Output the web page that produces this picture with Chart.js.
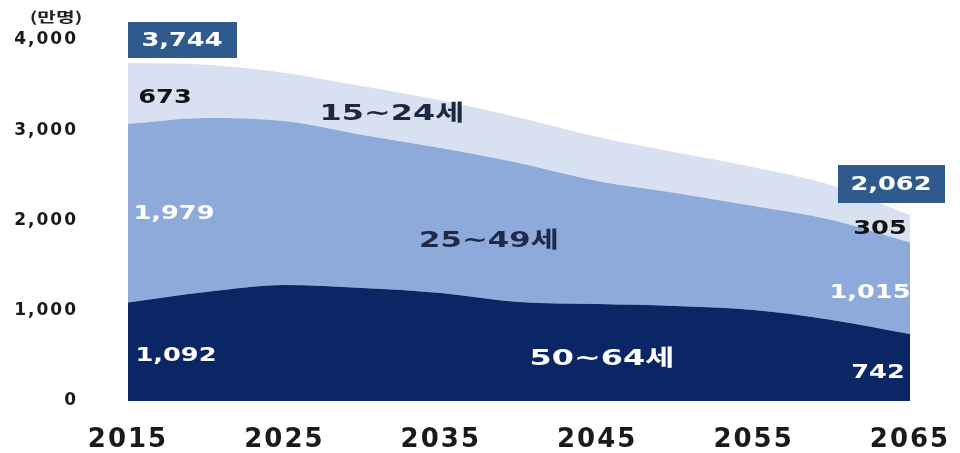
<!DOCTYPE html>
<html>
<head>
<meta charset="utf-8">
<script src="https://cdn.jsdelivr.net/npm/chart.js@4.4.0/dist/chart.umd.min.js"></script>
<style>
  html, body { margin: 0; padding: 0; background: #fff; }
  #wrap { width: 960px; height: 453px; }
</style>
</head>
<body>
<div id="wrap"><canvas id="popChart" width="960" height="453"></canvas></div>
<script>
// working-age population by age group (unit: 만명)
const years = [2015, 2020, 2025, 2030, 2035, 2040, 2045, 2050, 2055, 2060, 2065];
const age50to64 = [1092, 1208, 1285, 1252, 1197, 1097, 1075, 1053, 1008, 898, 742];
const age25to49 = [1979, 1928, 1817, 1695, 1606, 1540, 1363, 1252, 1152, 1108, 1015];
const age15to24 = [673, 590, 535, 540, 530, 505, 490, 450, 430, 385, 305];
const groupNames = ["50~64세", "25~49세", "15~24세"];
const xTicks = [2015, 2025, 2035, 2045, 2055, 2065];
const yTicks = [0, 1000, 2000, 3000, 4000];
const unitLabel = "(만명)";

const fmt = v => v.toLocaleString("en-US");
const total = i => age50to64[i] + age25to49[i] + age15to24[i];
const last = years.length - 1;

function pts(arr) {
  return years.map((y, i) => ({ x: y, y: arr[i] }));
}

// draw text squeezed wide like the original picture
function wideText(ctx, text, x, y, size, color, sx, family) {
  ctx.save();
  ctx.translate(x, y);
  ctx.scale(sx, 1);
  ctx.font = "bold " + size + "px " + (family || '"DejaVu Sans", "Noto Sans CJK KR"');
  ctx.fillStyle = color;
  ctx.textAlign = "center";
  ctx.textBaseline = "middle";
  ctx.fillText(text, 0, 0);
  ctx.restore();
}

const labelsPlugin = {
  id: "areaLabels",
  beforeDraw(chart) {
    chart.ctx.letterSpacing = "2px";
  },
  beforeDatasetsDraw(chart) {
    chart.ctx.letterSpacing = "0px";
  },
  afterDatasetsDraw(chart) {
    const ctx = chart.ctx;
    ctx.save();
    // total boxes
    ctx.fillStyle = "#2f5b8c";
    ctx.fillRect(128, 22, 109, 36);
    ctx.fillRect(838, 165, 107, 38);
    wideText(ctx, fmt(total(0)), 182, 41, 19, "#ffffff", 1.35);
    wideText(ctx, fmt(total(last)), 891, 185, 19, "#ffffff", 1.35);

    // first-year values
    wideText(ctx, fmt(age15to24[0]), 165, 98, 19, "#111111", 1.35);
    wideText(ctx, fmt(age25to49[0]), 174, 214, 19, "#ffffff", 1.35);
    wideText(ctx, fmt(age50to64[0]), 176, 356, 19, "#ffffff", 1.35);

    // last-year values
    wideText(ctx, fmt(age15to24[last]), 880, 229, 19, "#111111", 1.35);
    wideText(ctx, fmt(age25to49[last]), 870, 293, 19, "#ffffff", 1.35);
    wideText(ctx, fmt(age50to64[last]), 878, 373, 19, "#ffffff", 1.35);

    // group names
    wideText(ctx, groupNames[2], 392, 114, 22, "#1c2740", 1.45);
    wideText(ctx, groupNames[1], 489, 241, 22, "#1f2a4a", 1.4);
    wideText(ctx, groupNames[0], 602, 359, 22, "#ffffff", 1.45);

    // unit
    wideText(ctx, unitLabel, 56, 17, 14, "#222222", 1.45, '"Noto Sans CJK KR"');
    ctx.restore();
  }
};

new Chart(document.getElementById("popChart"), {
  type: "line",
  data: {
    datasets: [
      {
        label: groupNames[0],
        data: pts(age50to64),
        backgroundColor: "#0b2664",
        fill: "origin"
      },
      {
        label: groupNames[1],
        data: pts(age25to49),
        backgroundColor: "#8eaadb",
        fill: "-1"
      },
      {
        label: groupNames[2],
        data: pts(age15to24),
        backgroundColor: "#d8e1f1",
        fill: "-1"
      }
    ]
  },
  options: {
    responsive: false,
    animation: false,
    devicePixelRatio: 1,
    layout: { padding: { top: 40, right: 50, left: 0, bottom: 0 } },
    elements: {
      point: { radius: 0 },
      line: { borderWidth: 0, cubicInterpolationMode: "monotone" }
    },
    plugins: {
      legend: { display: false },
      tooltip: { enabled: false }
    },
    scales: {
      x: {
        type: "linear",
        min: 2015,
        max: 2065,
        grid: { display: false },
        border: { display: false },
        afterBuildTicks: s => { s.ticks = xTicks.map(v => ({ value: v })); },
        afterFit: s => { s.height = 52; s.paddingLeft = 0; s.paddingRight = 0; },
        ticks: {
          padding: 16,
          color: "#1a1a1a",
          font: { family: '"DejaVu Sans"', size: 26, weight: "bold" },
          callback: v => String(v)
        }
      },
      y: {
        stacked: true,
        min: 0,
        max: 4000,
        grid: { display: false },
        border: { display: false },
        afterBuildTicks: s => { s.ticks = yTicks.map(v => ({ value: v })); },
        afterFit: s => { s.width = 128; s.paddingTop = 0; s.paddingBottom = 0; },
        ticks: {
          padding: 42,
          color: "#1a1a1a",
          font: { family: '"DejaVu Sans"', size: 17, weight: "bold" },
          callback: v => fmt(v)
        }
      }
    }
  },
  plugins: [labelsPlugin]
});
</script>
</body>
</html>
